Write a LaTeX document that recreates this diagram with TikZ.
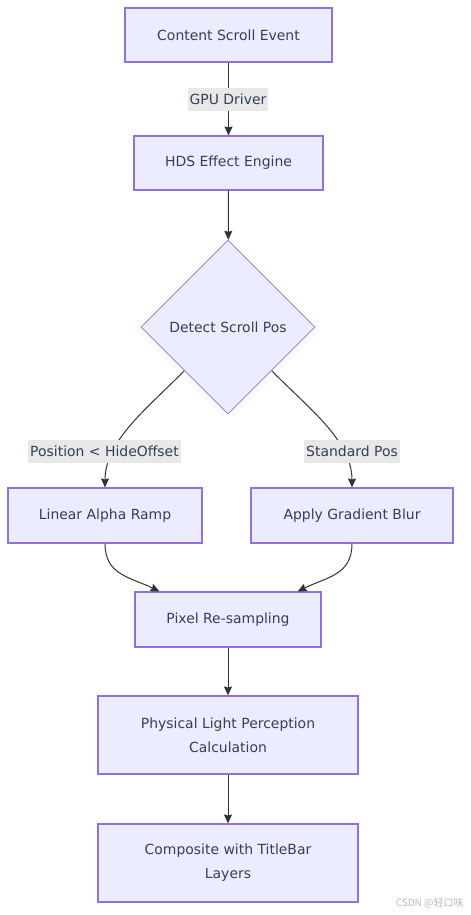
\documentclass[tikz,border=0pt]{standalone}
\usepackage{fontspec}
\setmainfont{DejaVu Sans}
\newfontfamily\cjkfont{Noto Sans CJK SC}
\usetikzlibrary{arrows.meta, shapes.geometric}
\definecolor{boxfill}{HTML}{ECECFF}
\definecolor{boxline}{HTML}{9370DB}
\definecolor{inktext}{HTML}{333F55}
\definecolor{edgeink}{HTML}{333333}
\definecolor{lblfill}{HTML}{E8E8E8}

\begin{document}
\begin{tikzpicture}[x=1bp, y=-1bp, >={Stealth[length=9bp, width=8bp, inset=1bp]},
  font=\fontsize{14}{24}\selectfont, text=inktext,
  stepbox/.style={draw=boxline, fill=boxfill, line width=1.1bp, align=center, inner sep=0pt},
  choice/.style={diamond, draw=boxline, fill=boxfill, line width=0.8bp, minimum size=174bp, inner sep=0pt},
  flow/.style={->, draw=edgeink, line width=1bp},
  lbl/.style={fill=lblfill, inner sep=2bp, minimum height=23bp}]

\useasboundingbox (0,0) rectangle (471,915);

% Main chain, top to bottom
\node[stepbox, minimum width=207bp, minimum height=54bp] (scroll) at (228.5,35) {Content Scroll Event};
\node[stepbox, minimum width=189bp, minimum height=54bp] (engine) at (228.5,163) {HDS Effect Engine};
\node[choice] (detect) at (228,327) {Detect Scroll Pos};

% Two branches
\node[stepbox, minimum width=194bp, minimum height=55bp] (ramp) at (105,515.5) {Linear Alpha Ramp};
\node[stepbox, minimum width=202bp, minimum height=55bp] (blur) at (352,515.5) {Apply Gradient Blur};

% Merge and output
\node[stepbox, minimum width=186bp, minimum height=55bp] (pixel) at (228,619.5) {Pixel Re-sampling};
\node[stepbox, minimum width=260bp, minimum height=78bp] (light) at (228,735) {Physical Light Perception\\Calculation};
\node[stepbox, minimum width=260bp, minimum height=78bp] (compose) at (228,863) {Composite with TitleBar\\Layers};

% Connectors
\draw[flow] (scroll) -- (engine);
\draw[flow] (engine) -- (detect);
\draw[flow] (detect.south west) .. controls (150,406) and (105,440) .. (ramp.north);
\draw[flow] (detect.south east) .. controls (306,406) and (352,440) .. (blur.north);
\draw[flow] (ramp.south) .. controls (105,575) and (130,577) .. ([xshift=25bp]pixel.north west);
\draw[flow] (blur.south) .. controls (352,575) and (327,577) .. ([xshift=-24bp]pixel.north east);
\draw[flow] (pixel) -- (light);
\draw[flow] (light) -- (compose);

% Edge labels
\node[lbl] (lgpu) at (228,99) {GPU Driver};
\node[lbl] (lhide) at (104.5,451) {Position < HideOffset};
\node[lbl] (lstd) at (352,451) {Standard Pos};

% Watermark
\node[text=gray!55, font=\cjkfont\fontsize{10}{10}\selectfont, anchor=east] (mark) at (467,903) {CSDN @轻口味};

\end{tikzpicture}
\end{document}
